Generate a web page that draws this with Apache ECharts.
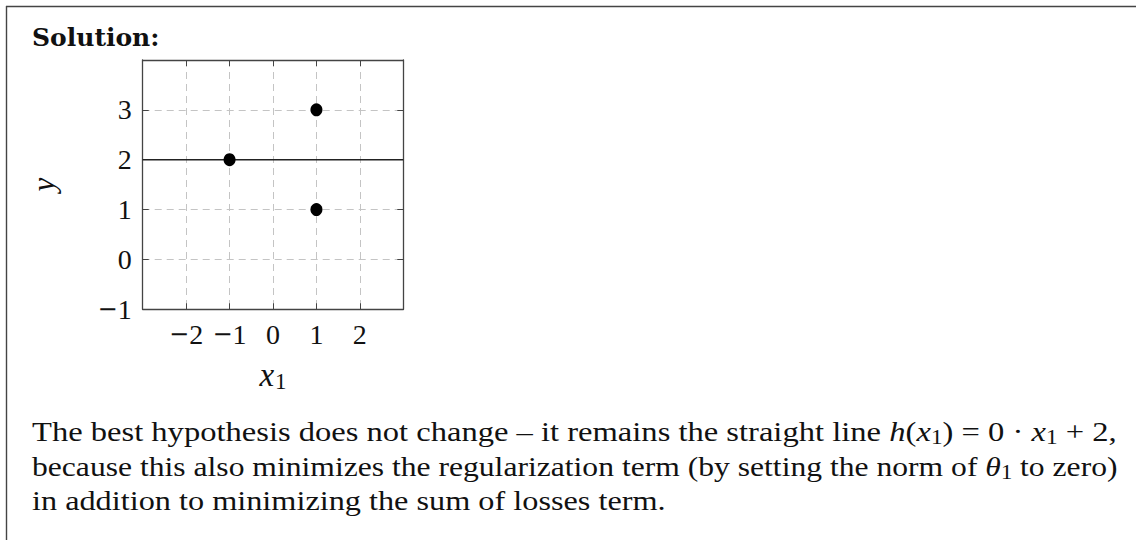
<!DOCTYPE html>
<html>
<head>
<meta charset="utf-8">
<script src="https://cdn.jsdelivr.net/npm/echarts@6/dist/echarts.min.js"></script>
<style>
  html, body { margin: 0; padding: 0; background: #ffffff; }
  #chart { width: 1136px; height: 540px; }
</style>
</head>
<body>
<div id="chart"></div>
<script>
// Training points (x1, y)
const pointsX = [-1, 1, 1];
const pointsY = [2, 3, 1];

// Best hypothesis h(x1) = 0 * x1 + 2, drawn across the visible x range
const hypothesisX = [-3, 3];
const hypothesisY = [2, 2];

// Axis ranges and labelled ticks
const xRange = [-3, 3];
const yRange = [-1, 4];
const xTickLabels = [-2, -1, 0, 1, 2];
const yTickLabels = [-1, 0, 1, 2, 3];

const SERIF = 'Liberation Serif, DejaVu Serif, serif';
const AXIS_COLOR = '#444';
const GRID_COLOR = '#c4c4c4';
const INK = '#111';

// tick label text, typeset with a wide math minus sign
function fmt(list) {
  return function (v) {
    if (list.indexOf(v) < 0) return '';
    return v < 0 ? '{m|\u2212}{t|' + Math.abs(v) + '}' : '{t|' + v + '}';
  };
}

const tickRich = {
  t: { fontFamily: SERIF, fontSize: 28, color: INK },
  m: { fontFamily: 'DejaVu Serif, serif', fontSize: 24, color: INK }
};

function axisBase(extra) {
  return Object.assign({
    type: 'value',
    interval: 1,
    axisLine: { show: true, onZero: false, lineStyle: { color: AXIS_COLOR, width: 1.3 } },
    axisTick: { show: true, inside: true, length: 6, lineStyle: { color: AXIS_COLOR, width: 1 } },
    splitLine: { show: false },
    axisLabel: { show: false }
  }, extra);
}

// rich-text styles shared by the paragraph lines
const paraRich = {
  r: { fontFamily: SERIF, fontSize: 28, fill: INK },
  i: { fontFamily: SERIF, fontStyle: 'italic', fontSize: 28, fill: INK },
  s: { fontFamily: SERIF, fontSize: 20, fill: INK, padding: [12, 0, 0, 0] }
};

const chart = echarts.init(document.getElementById('chart'), null, { renderer: 'svg' });

chart.setOption({
  animation: false,
  backgroundColor: '#ffffff',
  grid: { left: 142.7, right: 732.7, top: 60, bottom: 230.7, containLabel: false },
  xAxis: [
    axisBase({
      position: 'bottom', min: xRange[0], max: xRange[1],
      splitLine: { show: true, lineStyle: { color: GRID_COLOR, width: 1, type: [7, 5] } },
      axisLabel: {
        show: true, formatter: fmt(xTickLabels), margin: 11,
        rich: tickRich
      },
      name: '{i|x}{s|1}', nameLocation: 'middle', nameGap: 47,
      nameTextStyle: {
        rich: {
          i: { fontFamily: SERIF, fontStyle: 'italic', fontSize: 33, color: INK },
          s: { fontFamily: SERIF, fontSize: 23, color: INK, padding: [14, 0, 0, 1] }
        }
      }
    }),
    axisBase({ position: 'top', min: xRange[0], max: xRange[1] })
  ],
  yAxis: [
    axisBase({
      position: 'left', min: yRange[0], max: yRange[1],
      splitLine: { show: true, lineStyle: { color: GRID_COLOR, width: 1, type: [7, 5] } },
      axisLabel: {
        show: true, formatter: fmt(yTickLabels), margin: 11,
        rich: tickRich
      },
      name: 'y', nameLocation: 'middle', nameGap: 84,
      nameTextStyle: { fontFamily: SERIF, fontStyle: 'italic', fontSize: 31, color: INK }
    }),
    axisBase({ position: 'right', min: yRange[0], max: yRange[1] })
  ],
  series: [
    {
      type: 'line',
      data: hypothesisX.map((x, i) => [x, hypothesisY[i]]),
      showSymbol: false,
      lineStyle: { color: '#222', width: 1.5 },
      z: 3
    },
    {
      type: 'scatter',
      data: pointsX.map((x, i) => [x, pointsY[i]]),
      symbol: 'circle',
      symbolSize: [12, 13],
      itemStyle: { color: '#000', opacity: 1 },
      z: 4
    }
  ],
  graphic: [
    // page frame: top rule and left rule
    { type: 'line', shape: { x1: 6, y1: 6.5, x2: 1136, y2: 6.5 }, style: { stroke: AXIS_COLOR, lineWidth: 1.4 } },
    { type: 'line', shape: { x1: 6.5, y1: 6, x2: 6.5, y2: 540 }, style: { stroke: AXIS_COLOR, lineWidth: 1.4 } },
    {
      type: 'text', left: 32, top: 25,
      style: { text: 'Solution:', font: 'bold 25px DejaVu Serif, serif', fill: INK }
    },
    {
      type: 'text', x: 32, y: 432, scaleX: 1.163,
      style: {
        text: '{r|The best hypothesis does not change \u2013 it remains the straight line }{i|h}{r|(}{i|x}{s|1}{r|) = 0 \u00b7 }{i|x}{s|1}{r| + 2,}',
        verticalAlign: 'middle',
        rich: paraRich
      }
    },
    {
      type: 'text', x: 32, y: 466.5, scaleX: 1.129,
      style: {
        text: '{r|because this also minimizes the regularization term (by setting the norm of }{i|\u03b8}{s|1}{r| to zero)}',
        verticalAlign: 'middle',
        rich: paraRich
      }
    },
    {
      type: 'text', x: 32, y: 501, scaleX: 1.153,
      style: {
        text: '{r|in addition to minimizing the sum of losses term.}',
        verticalAlign: 'middle',
        rich: paraRich
      }
    }
  ]
});
</script>
</body>
</html>
